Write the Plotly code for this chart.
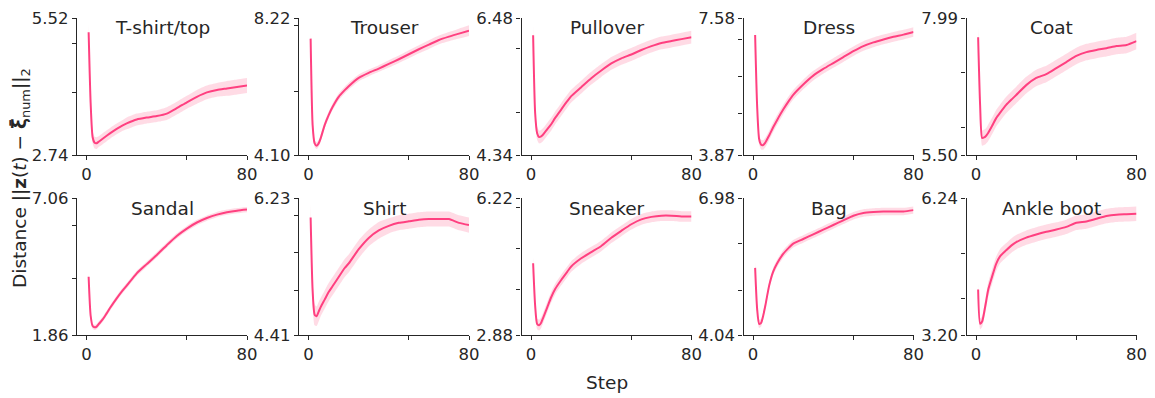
import plotly.graph_objects as go

STEPS = [1, 2, 3, 4, 5, 6, 8, 10, 12, 15, 18, 20, 25, 30, 35, 40, 45, 50, 55, 60, 65, 70, 75, 80]

CLASSES = ["T-shirt/top", "Trouser", "Pullover", "Dress", "Coat",
           "Sandal", "Shirt", "Sneaker", "Bag", "Ankle boot"]

Y_MIN = [2.74, 4.10, 4.34, 3.87, 5.50, 1.86, 4.41, 2.88, 4.04, 3.20]
Y_MAX = [5.52, 8.22, 6.48, 7.58, 7.99, 7.06, 6.23, 6.22, 6.98, 6.24]
Y_MINOR = [[4, 5], [6, 8], [5, 6], [5, 6, 7], [6, 7],
           [4, 6], [5, 5.5, 6], [4, 5, 6], [5, 6], [4, 5]]

mean_tshirt = [5.23, 3.8, 3.1, 2.99, 2.98, 3.01, 3.07, 3.13, 3.19, 3.27, 3.34, 3.38, 3.46, 3.50, 3.53, 3.58, 3.69, 3.81, 3.92, 4.01, 4.06, 4.09, 4.12, 4.15]
sd_tshirt = [0.15, 0.14, 0.12, 0.12, 0.12, 0.11, 0.11, 0.11, 0.11, 0.11, 0.11, 0.12, 0.12, 0.12, 0.12, 0.13, 0.13, 0.13, 0.14, 0.14, 0.14, 0.15, 0.15, 0.15]

mean_trouser = [7.6, 5.0, 4.45, 4.38, 4.45, 4.6, 5.0, 5.3, 5.55, 5.85, 6.05, 6.17, 6.42, 6.57, 6.70, 6.84, 6.98, 7.13, 7.28, 7.42, 7.56, 7.66, 7.75, 7.84]
sd_trouser = [0.2, 0.15, 0.1, 0.1, 0.1, 0.1, 0.1, 0.1, 0.1, 0.1, 0.1, 0.1, 0.1, 0.1, 0.1, 0.11, 0.11, 0.12, 0.12, 0.13, 0.13, 0.14, 0.15, 0.16]

mean_pullover = [6.21, 5.0, 4.68, 4.62, 4.63, 4.66, 4.74, 4.82, 4.92, 5.05, 5.18, 5.26, 5.40, 5.54, 5.66, 5.77, 5.85, 5.91, 5.98, 6.04, 6.09, 6.12, 6.15, 6.18]
sd_pullover = [0.15, 0.12, 0.1, 0.1, 0.1, 0.1, 0.1, 0.1, 0.1, 0.1, 0.1, 0.1, 0.1, 0.1, 0.1, 0.1, 0.1, 0.1, 0.1, 0.1, 0.1, 0.1, 0.1, 0.1]

mean_dress = [7.12, 5.2, 4.3, 4.15, 4.14, 4.2, 4.4, 4.62, 4.82, 5.1, 5.35, 5.5, 5.78, 6.02, 6.2, 6.36, 6.52, 6.68, 6.82, 6.92, 7.0, 7.07, 7.13, 7.2]
sd_dress = [0.17, 0.15, 0.13, 0.13, 0.13, 0.13, 0.13, 0.13, 0.13, 0.13, 0.13, 0.13, 0.13, 0.13, 0.13, 0.13, 0.13, 0.13, 0.13, 0.13, 0.13, 0.13, 0.13, 0.13]

mean_coat = [7.64, 6.4, 5.81, 5.82, 5.85, 5.9, 6.03, 6.17, 6.27, 6.41, 6.52, 6.59, 6.77, 6.90, 6.97, 7.08, 7.19, 7.30, 7.37, 7.41, 7.44, 7.48, 7.50, 7.57]
sd_coat = [0.18, 0.16, 0.14, 0.14, 0.14, 0.15, 0.15, 0.15, 0.15, 0.15, 0.15, 0.15, 0.15, 0.15, 0.15, 0.15, 0.15, 0.15, 0.15, 0.15, 0.15, 0.15, 0.15, 0.15]

mean_sandal = [4.07, 2.6, 2.2, 2.15, 2.18, 2.27, 2.45, 2.68, 2.92, 3.25, 3.55, 3.73, 4.2, 4.55, 4.9, 5.27, 5.62, 5.9, 6.13, 6.3, 6.43, 6.52, 6.58, 6.62]
sd_sandal = [0.12, 0.1, 0.1, 0.1, 0.1, 0.1, 0.1, 0.1, 0.1, 0.1, 0.1, 0.1, 0.1, 0.1, 0.1, 0.1, 0.1, 0.1, 0.1, 0.1, 0.1, 0.1, 0.1, 0.1]

mean_shirt = [5.97, 5.0, 4.68, 4.66, 4.72, 4.78, 4.88, 4.98, 5.06, 5.18, 5.3, 5.36, 5.55, 5.7, 5.8, 5.86, 5.9, 5.92, 5.94, 5.95, 5.95, 5.95, 5.9, 5.87]
sd_shirt = [0.17, 0.15, 0.14, 0.13, 0.13, 0.12, 0.12, 0.12, 0.12, 0.12, 0.12, 0.12, 0.12, 0.11, 0.11, 0.1, 0.1, 0.1, 0.1, 0.1, 0.1, 0.1, 0.1, 0.1]

mean_sneaker = [4.63, 3.6, 3.15, 3.12, 3.18, 3.3, 3.55, 3.8, 4.0, 4.22, 4.42, 4.55, 4.75, 4.9, 5.05, 5.25, 5.42, 5.58, 5.7, 5.76, 5.79, 5.79, 5.77, 5.77]
sd_sneaker = [0.15, 0.13, 0.13, 0.13, 0.13, 0.13, 0.13, 0.13, 0.13, 0.13, 0.13, 0.13, 0.13, 0.13, 0.13, 0.13, 0.13, 0.13, 0.13, 0.13, 0.13, 0.13, 0.13, 0.13]

mean_bag = [5.48, 4.6, 4.28, 4.3, 4.45, 4.65, 5.1, 5.4, 5.58, 5.78, 5.92, 6.0, 6.1, 6.2, 6.3, 6.4, 6.5, 6.6, 6.66, 6.68, 6.69, 6.69, 6.69, 6.72]
sd_bag = [0.12, 0.1, 0.09, 0.08, 0.08, 0.08, 0.08, 0.08, 0.08, 0.08, 0.08, 0.08, 0.08, 0.08, 0.08, 0.08, 0.08, 0.08, 0.08, 0.08, 0.08, 0.08, 0.08, 0.08]

mean_ankle = [4.21, 3.45, 3.5, 3.7, 3.95, 4.2, 4.5, 4.78, 4.95, 5.08, 5.2, 5.26, 5.36, 5.43, 5.49, 5.54, 5.6, 5.69, 5.72, 5.78, 5.84, 5.87, 5.88, 5.89]
sd_ankle = [0.15, 0.12, 0.12, 0.14, 0.15, 0.16, 0.16, 0.16, 0.16, 0.16, 0.16, 0.16, 0.16, 0.16, 0.16, 0.16, 0.16, 0.16, 0.16, 0.16, 0.16, 0.16, 0.16, 0.16]

MEANS = [mean_tshirt, mean_trouser, mean_pullover, mean_dress, mean_coat,
         mean_sandal, mean_shirt, mean_sneaker, mean_bag, mean_ankle]
SDS = [sd_tshirt, sd_trouser, sd_pullover, sd_dress, sd_coat,
       sd_sandal, sd_shirt, sd_sneaker, sd_bag, sd_ankle]

X_TICKS = [0, 80]
X_MINOR = [50]

W, H = 1155, 398
LINE_COLOR = "#ff4080"
BAND_COLOR = "rgba(255, 110, 150, 0.25)"
TEXT_COLOR = "#262626"
FONT = "DejaVu Sans"
FS_TICK = 16.5
FS_LABEL = 18.5

col_left = [77, 299, 521.5, 743.5, 966.5]
col_w = 170
row_top = [18, 198]
row_h = 137

fig = go.Figure()
layout = dict(
    width=W, height=H,
    margin=dict(l=0, r=0, t=0, b=0, autoexpand=False),
    paper_bgcolor="white", plot_bgcolor="white",
    showlegend=False,
    font=dict(family=FONT, size=FS_TICK, color=TEXT_COLOR),
)
annotations = []

for i, name in enumerate(CLASSES):
    r, c = divmod(i, 5)
    k = i + 1
    xa = "x" if k == 1 else f"x{k}"
    ya = "y" if k == 1 else f"y{k}"
    mean = MEANS[i]
    sd = SDS[i]
    upper = [m + s for m, s in zip(mean, sd)]
    lower = [m - s for m, s in zip(mean, sd)]
    fig.add_trace(go.Scatter(x=STEPS, y=upper, mode="lines", line=dict(width=0, shape="spline", smoothing=0.6),
                             xaxis=xa, yaxis=ya, hoverinfo="skip"))
    fig.add_trace(go.Scatter(x=STEPS, y=lower, mode="lines", line=dict(width=0, shape="spline", smoothing=0.6),
                             fill="tonexty", fillcolor=BAND_COLOR, xaxis=xa, yaxis=ya, hoverinfo="skip"))
    fig.add_trace(go.Scatter(x=STEPS, y=mean, mode="lines",
                             line=dict(color=LINE_COLOR, width=2, shape="spline", smoothing=0.6),
                             xaxis=xa, yaxis=ya))

    x0 = col_left[c] / W
    x1 = (col_left[c] + col_w) / W
    y1 = 1 - row_top[r] / H
    y0 = 1 - (row_top[r] + row_h) / H

    axis_common = dict(showgrid=False, zeroline=False, showline=True, linecolor=TEXT_COLOR,
                       linewidth=1.3, ticks="outside", ticklen=4, tickwidth=1.1,
                       tickcolor=TEXT_COLOR, automargin=False,
                       tickfont=dict(family=FONT, size=FS_TICK, color=TEXT_COLOR))
    layout["xaxis" if k == 1 else f"xaxis{k}"] = dict(
        domain=[x0, x1], anchor=ya, range=[-4.8, 80],
        tickmode="array", tickvals=X_TICKS, ticktext=[str(v) for v in X_TICKS],
        minor=dict(tickvals=X_MINOR, ticks="outside", ticklen=4, tickwidth=1.1,
                   tickcolor=TEXT_COLOR, showgrid=False),
        **axis_common)
    layout["yaxis" if k == 1 else f"yaxis{k}"] = dict(
        domain=[y0, y1], anchor=xa, range=[Y_MIN[i], Y_MAX[i]],
        tickmode="array", tickvals=[Y_MIN[i], Y_MAX[i]],
        ticktext=[f"{Y_MIN[i]:.2f}", f"{Y_MAX[i]:.2f}"],
        minor=dict(tickvals=Y_MINOR[i], ticks="outside", ticklen=4, tickwidth=1.1,
                   tickcolor=TEXT_COLOR, showgrid=False),
        **axis_common)

    annotations.append(dict(
        text=name, xref="paper", yref="paper",
        x=(x0 + x1) / 2, y=1 - (row_top[r] + 10) / H,
        xanchor="center", yanchor="middle", showarrow=False,
        font=dict(family=FONT, size=FS_LABEL, color=TEXT_COLOR)))

annotations.append(dict(
    text="Step", xref="paper", yref="paper", x=607 / W, y=1 - 382 / H,
    xanchor="center", yanchor="middle", showarrow=False,
    font=dict(family=FONT, size=FS_LABEL, color=TEXT_COLOR)))
annotations.append(dict(
    text="Distance ||<b>z</b>(<i>t</i>) \u2212 <b>\u03be\u0304</b><sub>num</sub>||<sub>2</sub>",
    xref="paper", yref="paper", x=21 / W, y=1 - 178 / H,
    xanchor="center", yanchor="middle", textangle=-90, showarrow=False,
    font=dict(family=FONT, size=FS_LABEL, color=TEXT_COLOR)))

layout["annotations"] = annotations
fig.update_layout(**layout)
fig.write_html("out.html")
